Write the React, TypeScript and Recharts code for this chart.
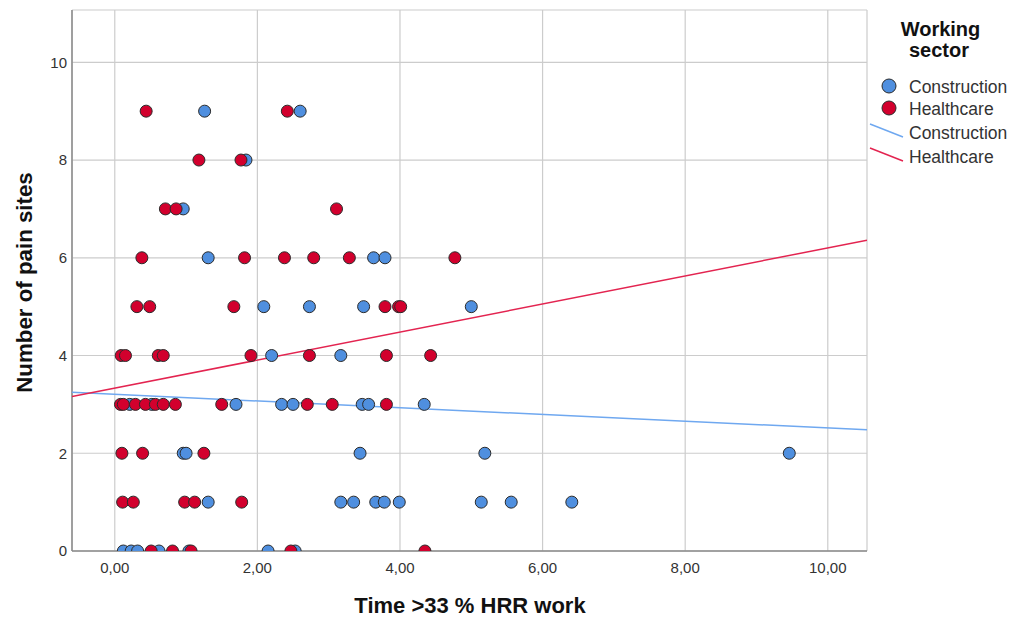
import React from "react";
import {
  ScatterChart,
  Scatter,
  XAxis,
  YAxis,
  CartesianGrid,
} from "recharts";

// Construction workers: time >33% HRR (x) vs number of pain sites (y)
const constructionX = [
  1.26, 2.6,
  1.84,
  0.96,
  1.31, 3.63, 3.79,
  2.09, 2.73, 3.49, 5.0,
  2.2, 3.17,
  0.21, 0.52, 1.7, 2.34, 2.5, 3.47, 3.56, 4.34,
  0.96, 1.0, 3.44, 5.19, 9.46,
  1.31, 3.17, 3.35, 3.66, 3.78, 3.99, 5.14, 5.56, 6.41,
  0.12, 0.23, 0.32, 0.62, 1.04, 2.15, 2.53,
];
const constructionY = [
  9, 9,
  8,
  7,
  6, 6, 6,
  5, 5, 5, 5,
  4, 4,
  3, 3, 3, 3, 3, 3, 3, 3,
  2, 2, 2, 2, 2,
  1, 1, 1, 1, 1, 1, 1, 1, 1,
  0, 0, 0, 0, 0, 0, 0,
];

// Healthcare workers
const healthcareX = [
  0.44, 2.42,
  1.18, 1.77,
  0.71, 0.86, 3.11,
  0.38, 1.82, 2.38, 2.79, 3.29, 4.77,
  0.31, 0.49, 1.67, 3.79, 3.98, 4.01,
  0.09, 0.15, 0.61, 0.68, 1.91, 2.73, 3.81, 4.43,
  0.08, 0.12, 0.29, 0.43, 0.57, 0.68, 0.85, 1.5, 2.7, 3.05, 3.81,
  0.1, 0.39, 1.25,
  0.11, 0.26, 0.98, 1.12, 1.78,
  0.51, 0.81, 1.07, 2.47, 4.35,
];
const healthcareY = [
  9, 9,
  8, 8,
  7, 7, 7,
  6, 6, 6, 6, 6, 6,
  5, 5, 5, 5, 5, 5,
  4, 4, 4, 4, 4, 4, 4, 4,
  3, 3, 3, 3, 3, 3, 3, 3, 3, 3, 3,
  2, 2, 2,
  1, 1, 1, 1, 1,
  0, 0, 0, 0, 0,
];

// Linear fit lines, end points at the edges of the x range
const fitX = [-0.6, 10.55];
const constructionFitY = [3.25, 2.48];
const healthcareFitY = [3.16, 6.36];

const xTicks = [0, 2, 4, 6, 8, 10];
const yTicks = [0, 2, 4, 6, 8, 10];

const BLUE = "#4f8fdf";
const RED = "#d2002d";
const BLUE_LINE = "#6fa8f0";
const RED_LINE = "#e32450";
const FONT = "'Liberation Sans', Arial, sans-serif";

const toPoints = (xs: number[], ys: number[]) => xs.map((x, i) => ({ x, y: ys[i] }));

const construction = toPoints(constructionX, constructionY);
const healthcare = toPoints(healthcareX, healthcareY);
const constructionFit = toPoints(fitX, constructionFitY);
const healthcareFit = toPoints(fitX, healthcareFitY);

const dot = (fill: string) => (props: any) => (
  <circle cx={props.cx} cy={props.cy} r={6} fill={fill} stroke="#2b2b2b" strokeWidth={1} />
);

const noDot = () => <g />;

function LegendBox() {
  return (
    <svg
      width={153}
      height={180}
      style={{ position: "absolute", left: 860, top: 0, fontFamily: FONT }}
    >
      <text x={80.5} y={35.5} textAnchor="middle" fontSize={20} fontWeight="bold" fill="#111">
        Working
      </text>
      <text x={79} y={57} textAnchor="middle" fontSize={20} fontWeight="bold" fill="#111">
        sector
      </text>
      <circle cx={29} cy={86} r={7} fill={BLUE} stroke="#2b2b2b" />
      <circle cx={29} cy={108} r={7} fill={RED} stroke="#2b2b2b" />
      <line x1={10} y1={124} x2={43} y2={137} stroke={BLUE_LINE} strokeWidth={1.5} />
      <line x1={10} y1={148} x2={43} y2={161} stroke={RED_LINE} strokeWidth={1.5} />
      <g fontSize={17.5} fill="#333">
        <text x={49} y={92.5}>Construction</text>
        <text x={49} y={115}>Healthcare</text>
        <text x={49} y={139}>Construction</text>
        <text x={49} y={162.5}>Healthcare</text>
      </g>
    </svg>
  );
}

export default function App() {
  return (
    <div style={{ position: "relative", width: 1013, height: 620, background: "#fff" }}>
      <style>{`body{margin:0}`}</style>
      <ScatterChart
        width={1013}
        height={620}
        margin={{ top: 10, right: 146, bottom: 0, left: 0 }}
        style={{ fontFamily: FONT }}
      >
        <CartesianGrid stroke="#cccccc" strokeWidth={1.2} />
        <XAxis
          type="number"
          dataKey="x"
          domain={[-0.6, 10.55]}
          ticks={xTicks}
          allowDataOverflow
          height={69}
          tickSize={0}
          tickMargin={11}
          axisLine={{ stroke: "#8a8a8a", strokeWidth: 1.5 }}
          tick={{ fill: "#333", fontSize: 15 }}
          tickFormatter={(v: number) => v.toFixed(2).replace(".", ",")}
          label={{
            content: () => (
              <text x={470} y={613} textAnchor="middle" fontSize={22} fontWeight="bold" fill="#111">
                Time &gt;33 % HRR work
              </text>
            ),
          }}
        />
        <YAxis
          type="number"
          dataKey="y"
          domain={[0, 11.07]}
          ticks={yTicks}
          allowDataOverflow
          width={72}
          tickSize={0}
          tickMargin={5}
          axisLine={{ stroke: "#8a8a8a", strokeWidth: 1.5 }}
          tick={{ fill: "#333", fontSize: 15 }}
          label={{
            content: () => (
              <text
                transform="translate(32,282.5) rotate(-90)"
                textAnchor="middle"
                fontSize={22.3}
                fontWeight="bold"
                fill="#111"
              >
                Number of pain sites
              </text>
            ),
          }}
        />
        <Scatter
          data={constructionFit}
          line={{ stroke: BLUE_LINE, strokeWidth: 1.5 }}
          shape={noDot}
          isAnimationActive={false}
        />
        <Scatter
          data={healthcareFit}
          line={{ stroke: RED_LINE, strokeWidth: 1.5 }}
          shape={noDot}
          isAnimationActive={false}
        />
        <Scatter data={construction} shape={dot(BLUE)} isAnimationActive={false} />
        <Scatter data={healthcare} shape={dot(RED)} isAnimationActive={false} />
      </ScatterChart>
      <LegendBox />
    </div>
  );
}
